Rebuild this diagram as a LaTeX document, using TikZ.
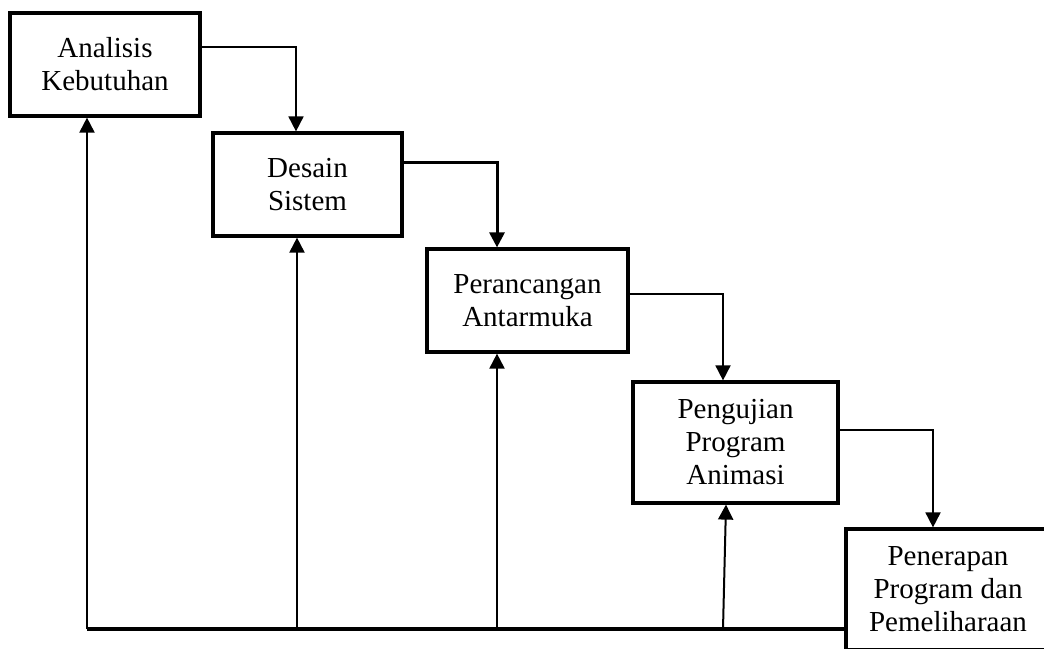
\documentclass[tikz,border=0pt]{standalone}
\usepackage{fontspec}
\setmainfont{Liberation Serif}
\usetikzlibrary{arrows.meta}

\begin{document}
\begin{tikzpicture}[x=1pt, y=-1pt,
  box/.style={draw, line width=3.2pt, align=center, inner sep=0pt,
    font=\fontsize{29}{33}\selectfont},
  flow/.style={-{Triangle[width=15pt,length=15pt]}, line width=1.8pt},
  back/.style={-{Triangle[width=15pt,length=15pt]}, line width=2pt}]
\useasboundingbox (0,0) rectangle (1044,648);
\clip (0,0) rectangle (1044,648);

\node[box, minimum width=190pt, minimum height=103pt] (analisis) at (105,64.5) {Analisis\\Kebutuhan};
\node[box, minimum width=189pt, minimum height=103pt] (desain) at (307.5,184.5) {Desain\\Sistem};
\node[box, minimum width=201pt, minimum height=103pt] (perancangan) at (527.5,300.5) {Perancangan\\Antarmuka};
\node[box, minimum width=205pt, minimum height=121pt] (pengujian) at (735.5,442.5) {Pengujian\\Program\\Animasi};
\node[box, minimum width=204pt, minimum height=121pt] (penerapan) at (948,589.5) {Penerapan\\Program dan\\Pemeliharaan};

% alur maju
\draw[flow] ([yshift=17.5pt]analisis.east) -| ([xshift=-11.5pt]desain.north);
\draw[flow, line width=3pt] ([yshift=22.5pt]desain.east) -| ([xshift=-30.5pt]perancangan.north);
\draw[flow] ([yshift=6.5pt]perancangan.east) -| ([xshift=-12.5pt]pengujian.north);
\draw[flow] ([yshift=12.5pt]pengujian.east) -| ([xshift=-15pt]penerapan.north);

% alur balik
\coordinate (bl) at (87,629);
\draw[line width=3.8pt] (bl) -- (bl -| penerapan.west);
\draw[back] (bl) -- (analisis.south -| bl);
\foreach \n/\dx/\s in {desain/-10.5/0, perancangan/-30.5/0, pengujian/-9.5/-3}
{
  \coordinate (f) at ([xshift=\dx pt]\n.south);
  \draw[back] ([xshift=\s pt]f |- bl) -- (f);
}
\end{tikzpicture}
\end{document}
